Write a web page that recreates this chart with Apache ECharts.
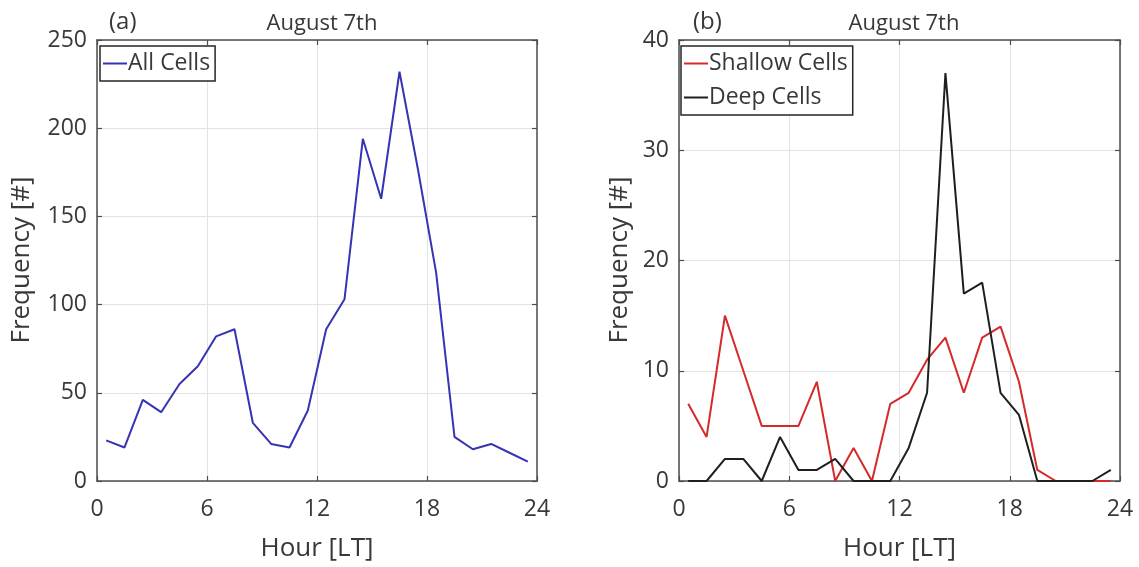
<!DOCTYPE html>
<html>
<head>
<meta charset="utf-8">
<script src="https://cdn.jsdelivr.net/npm/echarts@6/dist/echarts.min.js"></script>
<style>
  html, body { margin: 0; padding: 0; background: #fff; }
  #chart { width: 1139px; height: 567px; }
</style>
</head>
<body>
<div id="chart"></div>
<script>
// hours of the bins (centre of each hour)
const hours = [0.5, 1.5, 2.5, 3.5, 4.5, 5.5, 6.5, 7.5, 8.5, 9.5, 10.5, 11.5,
  12.5, 13.5, 14.5, 15.5, 16.5, 17.5, 18.5, 19.5, 20.5, 21.5, 22.5, 23.5];
// panel (a)
const allCells = [23, 19, 46, 39, 55, 65, 82, 86, 33, 21, 19, 40,
  86, 103, 194, 160, 232, 177, 118, 25, 18, 21, 16, 11];
// panel (b)
const shallowCells = [7, 4, 15, 10, 5, 5, 5, 9, 0, 3, 0, 7,
  8, 11, 13, 8, 13, 14, 9, 1, 0, 0, 0, 0];
const deepCells = [0, 0, 2, 2, 0, 4, 1, 1, 2, 0, 0, 0,
  3, 8, 37, 17, 18, 8, 6, 0, 0, 0, 0, 1];
const xTicks = [0, 6, 12, 18, 24];
const yTicksA = [0, 50, 100, 150, 200, 250];
const yTicksB = [0, 10, 20, 30, 40];

const chart = echarts.init(document.getElementById('chart'));

const FONT = 'Open Sans';
const TXT = '#383838';
const AXC = '#4d4d4d';

const pairs = vals => hours.map((h, i) => [h, vals[i]]);

// axis helpers
function xAx(grid, pos, labels) {
  return {
    type: 'value', gridIndex: grid, position: pos,
    min: xTicks[0], max: xTicks[xTicks.length - 1], interval: 6,
    axisLine: { show: true, onZero: false, lineStyle: { color: AXC, width: 1.5 } },
    axisTick: { show: true, inside: true, length: 5, lineStyle: { color: AXC, width: 1.2 } },
    axisLabel: { show: labels, fontFamily: FONT, fontSize: 23, color: TXT, margin: 17 },
    splitLine: { show: labels, lineStyle: { color: '#e3e3e3', width: 1 } },
    name: labels ? 'Hour [LT]' : '', nameLocation: 'middle', nameGap: 55,
    nameTextStyle: { fontFamily: FONT, fontSize: 26, color: TXT }
  };
}
function yAx(grid, pos, ticks, labels) {
  return {
    type: 'value', gridIndex: grid, position: pos,
    min: ticks[0], max: ticks[ticks.length - 1], interval: ticks[1] - ticks[0],
    axisLine: { show: true, onZero: false, lineStyle: { color: AXC, width: 1.5 } },
    axisTick: { show: true, inside: true, length: 5, lineStyle: { color: AXC, width: 1.2 } },
    axisLabel: { show: labels, fontFamily: FONT, fontSize: 23, color: TXT, margin: 10 },
    splitLine: { show: labels, lineStyle: { color: '#e3e3e3', width: 1 } }
  };
}

function legendBox(names, left, top) {
  return {
    data: names, orient: 'vertical', left: left, top: top,
    icon: 'rect', itemWidth: 24, itemHeight: 2, itemGap: 11,
    padding: [6, 5, 6, 3],
    backgroundColor: '#fff', borderColor: '#262626', borderWidth: 1.5, borderRadius: 0,
    textStyle: { fontFamily: FONT, fontSize: 23, color: TXT, padding: [0, 0, 0, -4] },
    selectedMode: false
  };
}

function titleText(text, left, top, size, align) {
  return { text: text, left: left, top: top, textAlign: align,
    textStyle: { fontFamily: FONT, fontSize: size, fontWeight: 'normal', color: TXT } };
}

const option = {
  animation: false,
  backgroundColor: '#fff',
  grid: [
    { left: 97, top: 40, width: 440, height: 441 },
    { left: 679, top: 40, width: 441, height: 441 }
  ],
  title: [
    titleText('August 7th', 317, 8, 22, 'center'),
    titleText('August 7th', 899, 8, 22, 'center'),
    titleText('(a)', 104, 5, 24, 'left'),
    titleText('(b)', 688, 5, 24, 'left')
  ],
  graphic: [
    { type: 'text', x: 22, y: 260, rotation: Math.PI / 2,
      style: { text: 'Frequency [#]', fontFamily: FONT, fontSize: 26, fill: TXT,
        align: 'center', verticalAlign: 'middle' } },
    { type: 'text', x: 620, y: 260, rotation: Math.PI / 2,
      style: { text: 'Frequency [#]', fontFamily: FONT, fontSize: 26, fill: TXT,
        align: 'center', verticalAlign: 'middle' } }
  ],
  legend: [
    legendBox(['All Cells'], 100, 46),
    legendBox(['Shallow Cells', 'Deep Cells'], 681, 46)
  ],
  xAxis: [xAx(0, 'bottom', true), xAx(0, 'top', false), xAx(1, 'bottom', true), xAx(1, 'top', false)],
  yAxis: [yAx(0, 'left', yTicksA, true), yAx(0, 'right', yTicksA, false),
    yAx(1, 'left', yTicksB, true), yAx(1, 'right', yTicksB, false)],
  series: [
    { name: 'All Cells', type: 'line', xAxisIndex: 0, yAxisIndex: 0,
      data: pairs(allCells), symbol: 'none', clip: false,
      lineStyle: { color: '#3434b4', width: 2 }, itemStyle: { color: '#3434b4' } },
    { name: 'Shallow Cells', type: 'line', xAxisIndex: 2, yAxisIndex: 2,
      data: pairs(shallowCells), symbol: 'none', clip: false,
      lineStyle: { color: '#d42a2a', width: 2 }, itemStyle: { color: '#d42a2a' } },
    { name: 'Deep Cells', type: 'line', xAxisIndex: 2, yAxisIndex: 2,
      data: pairs(deepCells), symbol: 'none', clip: false,
      lineStyle: { color: '#1f1f1f', width: 2 }, itemStyle: { color: '#1f1f1f' } }
  ]
};

chart.setOption(option);
</script>
</body>
</html>
